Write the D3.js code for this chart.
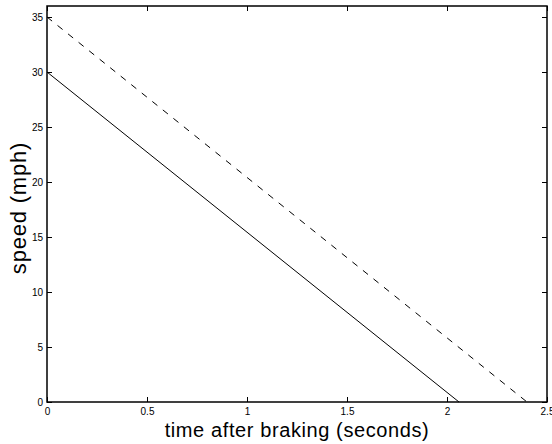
<!DOCTYPE html>
<html>
<head>
<meta charset="utf-8">
<script src="https://cdn.jsdelivr.net/npm/d3@7"></script>
<style>
  body { margin: 0; background: #fff; }
  svg { display: block; font-family: "Liberation Sans", Arial, sans-serif; }
</style>
</head>
<body>
<div id="chart"></div>
<script>
// braking lines: start speed and time when speed reaches zero
const solidTime = [0, 2.06];
const solidSpeed = [30, 0];
const dashedTime = [0, 2.4];
const dashedSpeed = [35, 0];
const xTicks = [0, 0.5, 1, 1.5, 2, 2.5];
const yTicks = [0, 5, 10, 15, 20, 25, 30, 35];

const W = 552, H = 444;
const m = { left: 47, right: 5, top: 6, bottom: 42 };

const svg = d3.select('#chart').append('svg')
  .attr('width', W).attr('height', H);

const x = d3.scaleLinear().domain([0, 2.5]).range([m.left, W - m.right]);
const y = d3.scaleLinear().domain([0, 36]).range([H - m.bottom, m.top]);

const tickLen = 5;

// axes, ticks pointing inward
svg.append('g').attr('transform', `translate(0,${y(0)})`)
  .call(d3.axisBottom(x).tickValues(xTicks).tickSize(-tickLen).tickPadding(6)
    .tickFormat(d => d))
  .call(g => g.select('.domain').remove());
svg.append('g').attr('transform', `translate(0,${y(36)})`)
  .call(d3.axisTop(x).tickValues(xTicks).tickSize(-tickLen).tickFormat(''))
  .call(g => g.select('.domain').remove());
svg.append('g').attr('transform', `translate(${x(0)},0)`)
  .call(d3.axisLeft(y).tickValues(yTicks).tickSize(-tickLen).tickPadding(4))
  .call(g => g.select('.domain').remove());
svg.append('g').attr('transform', `translate(${x(2.5)},0)`)
  .call(d3.axisRight(y).tickValues(yTicks).tickSize(-tickLen).tickFormat(''))
  .call(g => g.select('.domain').remove());

svg.selectAll('.tick text').attr('font-size', 10).attr('fill', '#000')
  .attr('font-family', '"Liberation Sans", Arial, sans-serif');
svg.selectAll('.tick line').attr('stroke', '#000');

// frame
svg.append('rect')
  .attr('x', x(0)).attr('y', y(36))
  .attr('width', x(2.5) - x(0)).attr('height', y(0) - y(36))
  .attr('fill', 'none').attr('stroke', '#000').attr('stroke-width', 1.5);

const line = d3.line().x(d => x(d[0])).y(d => y(d[1]));

svg.append('path')
  .datum(d3.zip(solidTime, solidSpeed))
  .attr('d', line).attr('fill', 'none')
  .attr('stroke', '#000').attr('stroke-width', 1);

svg.append('path')
  .datum(d3.zip(dashedTime, dashedSpeed))
  .attr('d', line).attr('fill', 'none')
  .attr('stroke', '#000').attr('stroke-width', 1)
  .attr('stroke-dasharray', '6.5,7');

svg.append('text')
  .attr('x', (x(0) + x(2.5)) / 2).attr('y', 437)
  .attr('text-anchor', 'middle').attr('font-size', 20)
  .attr('letter-spacing', 0.6)
  .text('time after braking (seconds)');

svg.append('text')
  .attr('transform', `translate(26,208) rotate(-90)`)
  .attr('text-anchor', 'middle').attr('font-size', 22)
  .attr('letter-spacing', 0.8)
  .text('speed (mph)');
</script>
</body>
</html>
